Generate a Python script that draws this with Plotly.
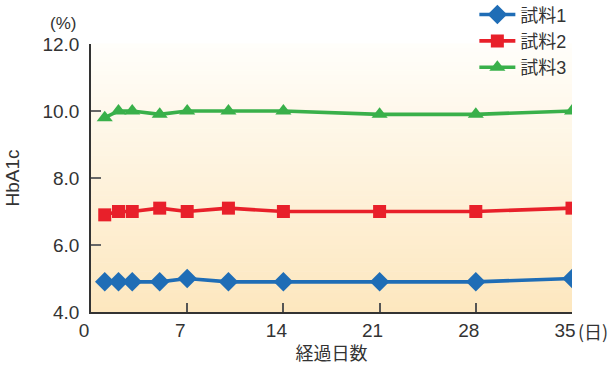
import plotly.graph_objects as go

# Elapsed days and HbA1c (%) for each sample
days = [1, 2, 3, 5, 7, 10, 14, 21, 28, 35]
sample1 = [4.9, 4.9, 4.9, 4.9, 5.0, 4.9, 4.9, 4.9, 4.9, 5.0]
sample2 = [6.9, 7.0, 7.0, 7.1, 7.0, 7.1, 7.0, 7.0, 7.0, 7.1]
sample3 = [9.8, 10.0, 10.0, 9.9, 10.0, 10.0, 10.0, 9.9, 9.9, 10.0]
names = ["試料1", "試料2", "試料3"]

x_ticks = [0, 7, 14, 21, 28, 35]
y_ticks = [4.0, 6.0, 8.0, 10.0, 12.0]

FONT = "Liberation Sans, Arial, Noto Sans CJK JP, sans-serif"
CJK = "Noto Sans CJK JP, Liberation Sans, sans-serif"
TXT = "#333333"

fig = go.Figure()
series = [
    (sample1, names[0], "#1f6db6", "diamond", 15),
    (sample2, names[1], "#e8202a", "square", 13),
    (sample3, names[2], "#39b04a", "triangle-up", 14),
]
for vals, nm, col, sym, sz in series:
    fig.add_trace(go.Scatter(
        x=days, y=vals, name=nm, mode="lines+markers",
        line=dict(color=col, width=3.6),
        marker=dict(symbol=sym, size=sz, color=col),
    ))

# Vertical gradient backdrop of the plotting area (white to pale orange)
top = (255, 254, 251)
bot = (253, 231, 190)
n = 60
for i in range(n):
    t = (i + 0.5) / n
    c = tuple(round(top[k] + (bot[k] - top[k]) * t) for k in range(3))
    fig.add_shape(
        type="rect", xref="paper", yref="paper",
        x0=0, x1=1, y0=1 - (i + 1) / n, y1=1 - i / n + 0.002,
        fillcolor="rgb(%d,%d,%d)" % c, line=dict(width=0), layer="below",
    )

fig.update_layout(
    width=611, height=365,
    margin=dict(l=91, r=39, t=44, b=53, autoexpand=False),
    paper_bgcolor="white", plot_bgcolor="rgba(0,0,0,0)",
    font=dict(family=FONT, color=TXT, size=19),
    showlegend=True,
    legend=dict(
        x=0.797, y=1.178, xanchor="left", yanchor="top",
        bgcolor="rgba(0,0,0,0)", font=dict(size=18, color=TXT, family=FONT),
        tracegroupgap=0, itemwidth=36,
    ),
    xaxis=dict(
        range=[0, 35], tickvals=x_ticks, ticktext=[str(v) for v in x_ticks],
        showgrid=False, zeroline=False, showline=True, linecolor="#333333", linewidth=1.5,
        ticks="inside", ticklen=9, tickcolor="#555555", tickwidth=1.5,
        ticklabelshift=-7,
        tickfont=dict(size=19, color=TXT),
        title=dict(text="経過日数", font=dict(size=18, color=TXT, family=CJK), standoff=0),
    ),
    yaxis=dict(
        range=[4, 12], tickvals=y_ticks, ticktext=["%.1f" % v for v in y_ticks],
        showgrid=False, zeroline=False, showline=True, linecolor="#333333", linewidth=1.5,
        ticks="inside", ticklen=10, tickcolor="#666666", tickwidth=1.5,
        ticklabelstandoff=6,
        tickfont=dict(size=19, color=TXT),
        title=dict(text="HbA1c", font=dict(size=19, color=TXT), standoff=18),
    ),
)

fig.add_annotation(text="(%)", xref="paper", yref="paper", x=-0.058, y=1.0, yshift=21,
                   showarrow=False, xanchor="center", yanchor="middle",
                   font=dict(size=17, color=TXT, family=FONT))
fig.add_annotation(text="(日)", xref="paper", yref="paper", x=1.0, y=0, yshift=-19,
                   xshift=4, showarrow=False, xanchor="left", yanchor="middle",
                   font=dict(size=18, color=TXT, family=CJK))

fig.write_html("out.html")
